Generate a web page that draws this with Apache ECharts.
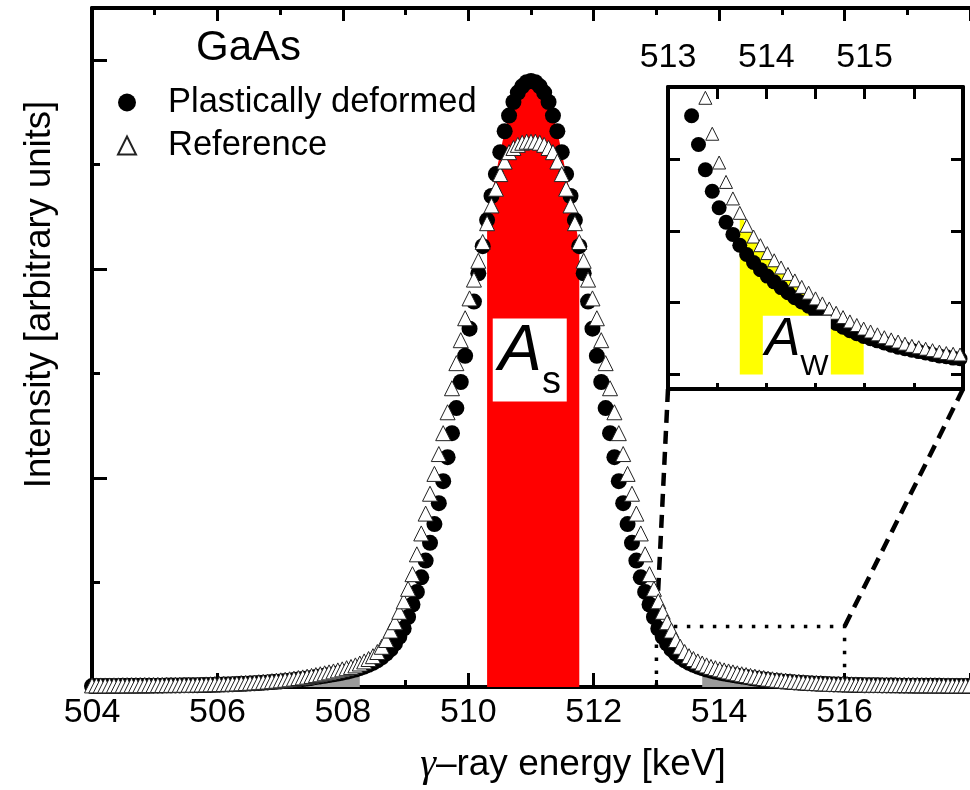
<!DOCTYPE html>
<html>
<head>
    <meta charset="UTF-8">
    <title>GaAs annihilation line</title>
    <style>
        html, body { margin: 0; padding: 0; background: #fff; }
        #chart { width: 970px; height: 790px; }
    </style>
</head>
<body>
    <div id="chart"></div>

    <script src="https://cdn.jsdelivr.net/npm/echarts@6/dist/echarts.min.js"></script>
    <script>
        // gamma-ray energy of every channel [keV]
        var energy = [
            504.00, 504.07, 504.14, 504.21, 504.28, 504.35, 504.42, 504.49, 504.56, 504.63,
            504.70, 504.77, 504.84, 504.91, 504.98, 505.05, 505.12, 505.19, 505.26, 505.33,
            505.40, 505.47, 505.54, 505.61, 505.68, 505.75, 505.82, 505.89, 505.96, 506.03,
            506.10, 506.17, 506.24, 506.31, 506.38, 506.45, 506.52, 506.59, 506.66, 506.73,
            506.80, 506.87, 506.94, 507.01, 507.08, 507.15, 507.22, 507.29, 507.36, 507.43,
            507.50, 507.57, 507.64, 507.71, 507.78, 507.85, 507.92, 507.99, 508.06, 508.13,
            508.20, 508.27, 508.34, 508.41, 508.48, 508.55, 508.62, 508.69, 508.76, 508.83,
            508.90, 508.97, 509.04, 509.11, 509.18, 509.25, 509.32, 509.39, 509.46, 509.53,
            509.60, 509.67, 509.74, 509.81, 509.88, 509.95, 510.02, 510.09, 510.16, 510.23,
            510.30, 510.37, 510.44, 510.51, 510.58, 510.65, 510.72, 510.79, 510.86, 510.93,
            511.00,
            511.07, 511.14, 511.21, 511.28, 511.35, 511.42, 511.49, 511.56, 511.63, 511.70,
            511.77, 511.84, 511.91, 511.98, 512.05, 512.12, 512.19, 512.26, 512.33, 512.40,
            512.47, 512.54, 512.61, 512.68, 512.75, 512.82, 512.89, 512.96, 513.03, 513.10,
            513.17, 513.24, 513.31, 513.38, 513.45, 513.52, 513.59, 513.66, 513.73, 513.80,
            513.87, 513.94, 514.01, 514.08, 514.15, 514.22, 514.29, 514.36, 514.43, 514.50,
            514.57, 514.64, 514.71, 514.78, 514.85, 514.92, 514.99, 515.06, 515.13, 515.20,
            515.27, 515.34, 515.41, 515.48, 515.55, 515.62, 515.69, 515.76, 515.83, 515.90,
            515.97, 516.04, 516.11, 516.18, 516.25, 516.32, 516.39, 516.46, 516.53, 516.60,
            516.67, 516.74, 516.81, 516.88, 516.95, 517.02, 517.09, 517.16, 517.23, 517.30,
            517.37, 517.44, 517.51, 517.58, 517.65, 517.72, 517.79, 517.86, 517.93, 518.00
        ];

        // plastically deformed sample (filled circles)
        var deformed = [
            0.009, 0.009, 0.010, 0.010, 0.010, 0.010, 0.010, 0.011, 0.011, 0.011,
            0.011, 0.012, 0.012, 0.012, 0.013, 0.013, 0.013, 0.014, 0.014, 0.015,
            0.015, 0.016, 0.016, 0.017, 0.017, 0.018, 0.019, 0.020, 0.021, 0.022,
            0.023, 0.025, 0.026, 0.028, 0.030, 0.032, 0.034, 0.036, 0.038, 0.041,
            0.044, 0.047, 0.050, 0.053, 0.057, 0.061, 0.066, 0.071, 0.076, 0.081,
            0.087, 0.095, 0.101, 0.107, 0.114, 0.121, 0.129, 0.137, 0.146, 0.156,
            0.167, 0.180, 0.195, 0.212, 0.232, 0.255, 0.285, 0.32, 0.36, 0.415,
            0.48, 0.56, 0.67, 0.79, 0.91, 1.05, 1.21, 1.38, 1.56, 1.76,
            1.97, 2.20, 2.43, 2.67, 2.92, 3.17, 3.43, 3.69, 3.96, 4.22,
            4.47, 4.70, 4.91, 5.12, 5.32, 5.47, 5.60, 5.69, 5.75, 5.79,
            5.80,
            5.79, 5.75, 5.69, 5.60, 5.47, 5.32, 5.12, 4.91, 4.70, 4.47,
            4.22, 3.96, 3.69, 3.43, 3.17, 2.92, 2.67, 2.43, 2.20, 1.97,
            1.76, 1.56, 1.38, 1.21, 1.05, 0.91, 0.79, 0.67, 0.56, 0.48,
            0.415, 0.36, 0.32, 0.285, 0.255, 0.232, 0.212, 0.195, 0.180, 0.167,
            0.156, 0.146, 0.137, 0.129, 0.121, 0.114, 0.107, 0.101, 0.095, 0.087,
            0.081, 0.076, 0.071, 0.066, 0.061, 0.057, 0.053, 0.050, 0.047, 0.044,
            0.041, 0.038, 0.036, 0.034, 0.032, 0.030, 0.028, 0.026, 0.025, 0.023,
            0.022, 0.021, 0.020, 0.019, 0.018, 0.017, 0.017, 0.016, 0.016, 0.015,
            0.015, 0.014, 0.014, 0.013, 0.013, 0.013, 0.012, 0.012, 0.012, 0.011,
            0.011, 0.011, 0.011, 0.010, 0.010, 0.010, 0.010, 0.010, 0.009, 0.009
        ];

        // reference sample (open triangles)
        var reference = [
            0.015, 0.015, 0.015, 0.015, 0.015, 0.016, 0.016, 0.016, 0.016, 0.017,
            0.017, 0.017, 0.018, 0.018, 0.018, 0.019, 0.019, 0.019, 0.020, 0.020,
            0.021, 0.021, 0.022, 0.022, 0.023, 0.024, 0.025, 0.026, 0.027, 0.028,
            0.029, 0.030, 0.032, 0.034, 0.036, 0.038, 0.040, 0.043, 0.046, 0.049,
            0.052, 0.056, 0.060, 0.064, 0.069, 0.074, 0.080, 0.086, 0.092, 0.099,
            0.106, 0.114, 0.122, 0.131, 0.140, 0.149, 0.159, 0.169, 0.180, 0.192,
            0.207, 0.225, 0.245, 0.268, 0.295, 0.335, 0.385, 0.45, 0.54, 0.62,
            0.72, 0.82, 0.94, 1.08, 1.27, 1.47, 1.66, 1.85, 2.04, 2.23,
            2.43, 2.63, 2.86, 3.10, 3.32, 3.53, 3.72, 3.90, 4.08, 4.26,
            4.44, 4.61, 4.77, 4.91, 5.03, 5.12, 5.16, 5.19, 5.21, 5.22,
            5.22,
            5.22, 5.21, 5.19, 5.16, 5.12, 5.03, 4.91, 4.77, 4.61, 4.44,
            4.26, 4.08, 3.90, 3.72, 3.53, 3.32, 3.10, 2.86, 2.63, 2.43,
            2.23, 2.04, 1.85, 1.66, 1.47, 1.27, 1.08, 0.94, 0.82, 0.72,
            0.62, 0.54, 0.45, 0.385, 0.335, 0.295, 0.268, 0.245, 0.225, 0.207,
            0.192, 0.180, 0.169, 0.159, 0.149, 0.140, 0.131, 0.122, 0.114, 0.106,
            0.099, 0.092, 0.086, 0.080, 0.074, 0.069, 0.064, 0.060, 0.056, 0.052,
            0.049, 0.046, 0.043, 0.040, 0.038, 0.036, 0.034, 0.032, 0.030, 0.029,
            0.028, 0.027, 0.026, 0.025, 0.024, 0.023, 0.022, 0.022, 0.021, 0.021,
            0.020, 0.020, 0.019, 0.019, 0.019, 0.018, 0.018, 0.018, 0.017, 0.017,
            0.017, 0.016, 0.016, 0.016, 0.016, 0.015, 0.015, 0.015, 0.015, 0.015
        ];

        // integration windows [keV]
        var sWindow = [510.28, 511.78];
        var wWindowLeft = [507.00, 508.28];
        var wWindowRight = [513.72, 515.00];

        // axes
        var mainX = [504, 518];
        var mainY = [0, 6.5];
        var mainYMajor = [2, 4, 6];
        var mainYMinor = [1, 3, 5];
        var insetX = [513, 516];
        var insetY = [-0.02, 0.40];
        var insetYTicks = [0, 0.1, 0.2, 0.3];
        var insetXLabels = [513, 514, 515];

        // zoomed region drawn in the main panel
        var zoomBoxX = [513, 516];
        var zoomBoxTop = 0.58;

        // where the area labels sit
        var sLabelAt = [510.98, 3.13];
        var wLabelAt = [514.31, 0.038];

        var FONT = '"Liberation Sans", Arial, sans-serif';

        function pairs(vals) {
            return energy.map(function (e, i) { return [e, vals[i]]; });
        }
        function pick(range, vals) {
            var out = [];
            energy.forEach(function (e, i) {
                if (e >= range[0] && e <= range[1]) out.push([e, vals[i]]);
            });
            return out;
        }

        var axisLine = { show: true, onZero: false, lineStyle: { color: '#000', width: 4 } };
        var tickLine = { color: '#000', width: 3 };

        var option = {
            animation: false,
            backgroundColor: '#fff',
            textStyle: { fontFamily: FONT, color: '#000' },
            title: {
                text: 'GaAs', left: 196, top: 27, padding: 0,
                textStyle: { fontFamily: FONT, fontSize: 42, fontWeight: 'normal', color: '#000' }
            },
            legend: {
                orient: 'vertical', left: 117, top: 85, padding: 0, itemGap: 8,
                itemWidth: 18, itemHeight: 18,
                textStyle: { fontFamily: FONT, fontSize: 34.5, color: '#000', padding: [0, 0, 0, 27] },
                data: [
                    { name: 'Plastically deformed', icon: 'circle' },
                    { name: 'Reference', icon: 'triangle' }
                ]
            },
            grid: [
                { left: 92, top: 8, right: 0, bottom: 101 },
                { left: 668, top: 87, width: 295, height: 302, show: true, backgroundColor: '#fff', borderWidth: 0 }
            ],
            xAxis: [
                {
                    type: 'value', gridIndex: 0, position: 'bottom', min: mainX[0], max: mainX[1], interval: 2,
                    axisLine: axisLine,
                    axisTick: { show: true, inside: true, length: 14, lineStyle: tickLine },
                    minorTick: { show: true, splitNumber: 2, length: 7, lineStyle: tickLine },
                    axisLabel: { show: true, fontSize: 34, fontFamily: FONT, color: '#000', margin: 9, showMaxLabel: false },
                    splitLine: { show: false },
                    name: '{g|\u03b3}\u2013ray energy [keV]', nameLocation: 'middle', nameGap: 58,
                    nameTextStyle: {
                        fontSize: 37, fontFamily: FONT, color: '#000', padding: [0, 0, 0, 84],
                        rich: { g: { fontSize: 40, fontStyle: 'italic', fontFamily: '"Liberation Serif", serif', color: '#000' } }
                    }
                },
                {
                    type: 'value', gridIndex: 0, position: 'top', min: mainX[0], max: mainX[1], interval: 2,
                    axisLine: axisLine,
                    axisTick: { show: true, inside: true, length: 13, lineStyle: tickLine },
                    minorTick: { show: true, splitNumber: 2, length: 7, lineStyle: tickLine },
                    axisLabel: { show: false }, splitLine: { show: false }
                },
                {
                    type: 'value', gridIndex: 1, position: 'top', min: insetX[0], max: insetX[1], interval: 0.5,
                    axisLine: axisLine,
                    axisTick: { show: true, inside: true, length: 12, lineStyle: tickLine },
                    axisLabel: { show: true, customValues: insetXLabels, fontSize: 34, fontFamily: FONT, color: '#000', margin: 12 },
                    splitLine: { show: false }
                },
                {
                    type: 'value', gridIndex: 1, position: 'bottom', min: insetX[0], max: insetX[1], interval: 0.5,
                    axisLine: axisLine,
                    axisTick: { show: true, inside: true, length: 6, lineStyle: tickLine },
                    axisLabel: { show: false }, splitLine: { show: false }
                }
            ],
            yAxis: [
                {
                    type: 'value', gridIndex: 0, position: 'left', min: mainY[0], max: mainY[1],
                    axisLine: axisLine,
                    axisTick: { show: true, inside: true, length: 15, customValues: mainYMajor, lineStyle: tickLine },
                    axisLabel: { show: false }, splitLine: { show: false },
                    name: 'Intensity [arbitrary units]', nameLocation: 'middle', nameGap: 34,
                    nameTextStyle: { fontSize: 36.5, fontFamily: FONT, color: '#000', padding: [0, 0, 0, 106] }
                },
                {
                    type: 'value', gridIndex: 0, position: 'left', min: mainY[0], max: mainY[1],
                    axisLine: { show: false },
                    axisTick: { show: true, inside: true, length: 8, customValues: mainYMinor, lineStyle: tickLine },
                    axisLabel: { show: false }, splitLine: { show: false }
                },
                {
                    type: 'value', gridIndex: 1, position: 'left', min: insetY[0], max: insetY[1],
                    axisLine: axisLine,
                    axisTick: { show: true, inside: true, length: 12, customValues: insetYTicks, lineStyle: tickLine },
                    axisLabel: { show: false }, splitLine: { show: false }
                },
                {
                    type: 'value', gridIndex: 1, position: 'right', min: insetY[0], max: insetY[1],
                    axisLine: axisLine,
                    axisTick: { show: true, inside: true, length: 12, customValues: insetYTicks, lineStyle: tickLine },
                    axisLabel: { show: false }, splitLine: { show: false }
                }
            ],
            series: [
                {
                    name: 'As', type: 'line', xAxisIndex: 0, yAxisIndex: 0, silent: true, z: 1,
                    data: pick(sWindow, deformed), symbol: 'none',
                    lineStyle: { width: 0 }, areaStyle: { color: '#ff0000', opacity: 1 },
                    markPoint: {
                        silent: true, symbol: 'rect', symbolSize: [74, 83],
                        itemStyle: { color: '#fff' },
                        label: {
                            show: true, position: 'inside', formatter: '{a|A}{s|s}{h|\u200b}',
                            rich: {
                                a: { fontSize: 65, fontStyle: 'italic', fontFamily: FONT, color: '#000', lineHeight: 66, verticalAlign: 'top' },
                                s: { fontSize: 38, fontFamily: FONT, color: '#000', lineHeight: 38, verticalAlign: 'bottom' },
                                h: { fontSize: 10, lineHeight: 82, verticalAlign: 'bottom' }
                            }
                        },
                        data: [{ coord: sLabelAt }]
                    }
                },
                {
                    name: 'wingL', type: 'line', xAxisIndex: 0, yAxisIndex: 0, silent: true, z: 1,
                    data: pick(wWindowLeft, deformed), symbol: 'none',
                    lineStyle: { width: 0 }, areaStyle: { color: '#9a9a9a', opacity: 1 }
                },
                {
                    name: 'wingR', type: 'line', xAxisIndex: 0, yAxisIndex: 0, silent: true, z: 1,
                    data: pick(wWindowRight, deformed), symbol: 'none',
                    lineStyle: { width: 0 }, areaStyle: { color: '#9a9a9a', opacity: 1 }
                },
                {
                    name: 'zoomBox', type: 'line', xAxisIndex: 0, yAxisIndex: 0, silent: true, z: 1,
                    symbol: 'none',
                    data: [[zoomBoxX[0], mainY[0]], [zoomBoxX[0], zoomBoxTop], [zoomBoxX[1], zoomBoxTop], [zoomBoxX[1], mainY[0]]],
                    lineStyle: { color: '#000', width: 3.5, type: [3.5, 9.5] }
                },
                {
                    id: 'zoomLeft', type: 'line', xAxisIndex: 0, yAxisIndex: 0, silent: true, z: 1,
                    symbol: 'none', data: [],
                    lineStyle: { color: '#000', width: 4.5, type: [13, 8] }
                },
                {
                    id: 'zoomRight', type: 'line', xAxisIndex: 0, yAxisIndex: 0, silent: true, z: 1,
                    symbol: 'none', data: [],
                    lineStyle: { color: '#000', width: 4.5, type: [13, 8] }
                },
                {
                    name: 'Plastically deformed', type: 'scatter', xAxisIndex: 0, yAxisIndex: 0, silent: true,
                    data: pairs(deformed), symbol: 'circle', symbolSize: 16,
                    itemStyle: { color: '#000', opacity: 1 }
                },
                {
                    name: 'Reference', type: 'scatter', xAxisIndex: 0, yAxisIndex: 0, silent: true,
                    data: pairs(reference), symbol: 'triangle', symbolSize: 15,
                    itemStyle: { color: '#fff', borderColor: '#222', borderWidth: 1, opacity: 1 }
                },
                {
                    name: 'Aw', type: 'line', xAxisIndex: 2, yAxisIndex: 2, silent: true, z: 1,
                    data: pick(wWindowRight, reference), symbol: 'none',
                    lineStyle: { width: 0 }, areaStyle: { color: '#ffff00', opacity: 1 },
                    markPoint: {
                        silent: true, symbol: 'rect', symbolSize: [68, 63],
                        itemStyle: { color: '#fff' },
                        label: {
                            show: true, position: 'inside', formatter: '{a|A}{w|W}{h|\u200b}',
                            rich: {
                                a: { fontSize: 53, fontStyle: 'italic', fontFamily: FONT, color: '#000', lineHeight: 54, verticalAlign: 'top' },
                                w: { fontSize: 30, fontFamily: FONT, color: '#000', lineHeight: 30, verticalAlign: 'bottom' },
                                h: { fontSize: 10, lineHeight: 68, verticalAlign: 'bottom' }
                            }
                        },
                        data: [{ coord: wLabelAt }]
                    }
                },
                {
                    name: 'Plastically deformed', type: 'scatter', xAxisIndex: 2, yAxisIndex: 2, silent: true,
                    data: pick(insetX, deformed), symbol: 'circle', symbolSize: 15,
                    itemStyle: { color: '#000', opacity: 1 }
                },
                {
                    name: 'Reference', type: 'scatter', xAxisIndex: 2, yAxisIndex: 2, silent: true,
                    data: pick(insetX, reference), symbol: 'triangle', symbolSize: 13,
                    itemStyle: { color: '#fff', borderColor: '#222', borderWidth: 1, opacity: 1 }
                }
            ]
        };

        var chart = echarts.init(document.getElementById('chart'));
        chart.setOption(option);

        // dashed guides from the zoom box to the lower corners of the inset
        var cornerL = chart.convertFromPixel({ xAxisIndex: 0, yAxisIndex: 0 },
            chart.convertToPixel({ xAxisIndex: 2, yAxisIndex: 2 }, [insetX[0], insetY[0]]));
        var cornerR = chart.convertFromPixel({ xAxisIndex: 0, yAxisIndex: 0 },
            chart.convertToPixel({ xAxisIndex: 2, yAxisIndex: 2 }, [insetX[1], insetY[0]]));
        chart.setOption({
            series: [
                { id: 'zoomLeft', data: [cornerL, [zoomBoxX[0], zoomBoxTop]] },
                { id: 'zoomRight', data: [cornerR, [zoomBoxX[1], zoomBoxTop]] }
            ]
        });
    </script>
</body>
</html>
